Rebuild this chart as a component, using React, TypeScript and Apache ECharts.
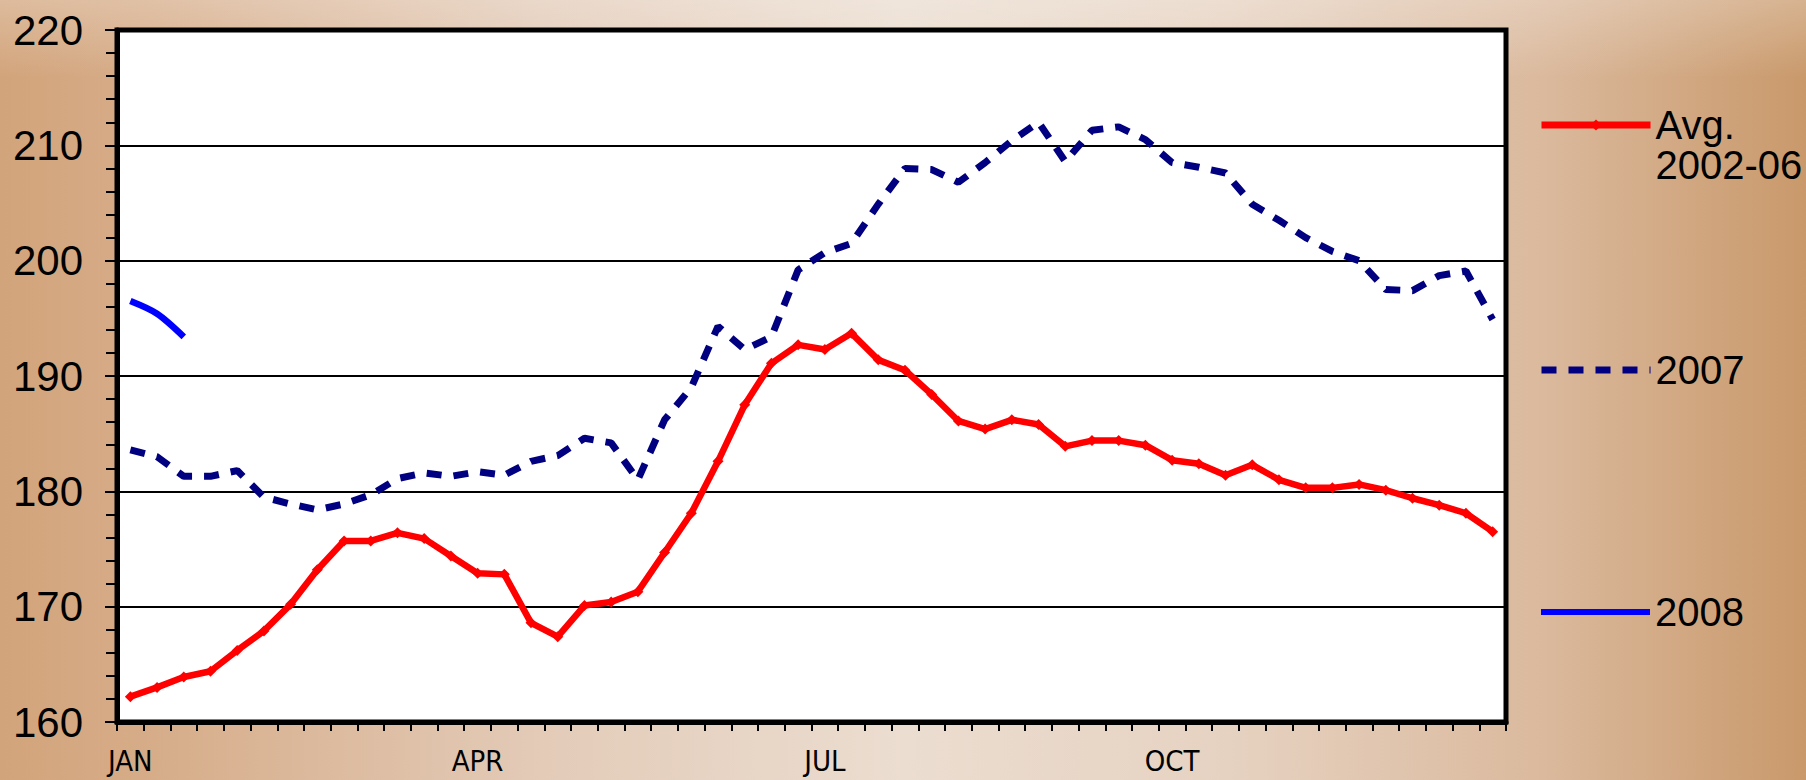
import React, { useEffect, useRef } from "react";
import * as echarts from "echarts";

// ---- data ----
const weekCategories: string[] = Array.from({ length: 52 }, (_, i) => `Week ${i + 1}`);
const monthTickLabels: string[] = ["JAN", "APR", "JUL", "OCT"];
const monthLabelWeekIndex: number[] = [0, 13, 26, 39];

const seriesNames: string[] = ["Avg. 2002-06", "2007", "2008"];

const avg2002to06: number[] = [
  162.2, 163.0, 163.9, 164.4, 166.2, 167.9, 170.2, 173.2, 175.7, 175.7,
  176.4, 175.9, 174.4, 172.9, 172.8, 168.6, 167.4, 170.1, 170.4, 171.3,
  174.7, 178.1, 182.6, 187.5, 191.1, 192.7, 192.3, 193.7, 191.4, 190.5,
  188.4, 186.1, 185.4, 186.2, 185.8, 183.9, 184.4, 184.4, 184.0, 182.7,
  182.4, 181.4, 182.3, 181.0, 180.3, 180.3, 180.6, 180.1, 179.4, 178.8,
  178.1, 176.5,
];

const y2007: number[] = [
  183.6, 183.0, 181.3, 181.3, 181.8, 179.5, 178.9, 178.4, 178.9, 179.7,
  181.1, 181.6, 181.3, 181.7, 181.4, 182.6, 183.1, 184.6, 184.2, 181.0,
  186.2, 189.0, 194.3, 192.3, 193.4, 199.2, 200.7, 201.5, 204.9, 208.0,
  207.9, 206.8, 208.5, 210.4, 212.0, 208.6, 211.3, 211.6, 210.5, 208.5,
  208.1, 207.6, 204.9, 203.5, 202.0, 200.8, 200.0, 197.5, 197.4, 198.7,
  199.1, 194.9,
];

const y2008: number[] = [196.5, 195.4, 193.4];

const yMin = 160;
const yMax = 220;
const yInterval = 10;

export default function App() {
  const ref = useRef<HTMLDivElement>(null);

  useEffect(() => {
    if (!ref.current) return;
    const chart = echarts.init(ref.current, null, { renderer: "svg" });
    const mainFont = "'Liberation Sans', Arial, sans-serif";
    const narrowFont = "'Liberation Sans Narrow', 'Arial Narrow', 'DejaVu Sans Condensed', sans-serif";

    const legendText = {
      color: "#000",
      fontSize: 40,
      lineHeight: 40,
      fontFamily: mainFont,
    };
    const legendCommon = {
      left: 1538,
      padding: 0,
      itemWidth: 109,
      itemHeight: 14,
      selectedMode: false,
      textStyle: legendText,
    };

    chart.setOption({
      animation: false,
      backgroundColor: "transparent",
      textStyle: { fontFamily: mainFont },
      grid: {
        left: 117,
        top: 30,
        width: 1389,
        height: 692,
        show: true,
        backgroundColor: "#ffffff",
        borderColor: "#000",
        borderWidth: 5,
        containLabel: false,
        outerBoundsMode: "none",
      },
      xAxis: {
        type: "category",
        data: weekCategories,
        boundaryGap: true,
        axisLine: { show: true, lineStyle: { color: "#000", width: 5 } },
        axisTick: {
          show: true,
          interval: 0,
          length: 9,
          lineStyle: { color: "#000", width: 2 },
        },
        axisLabel: {
          interval: 0,
          margin: 24,
          color: "#000",
          fontSize: 29,
          lineHeight: 29,
          fontFamily: narrowFont,
          formatter: (_v: string, idx: number) => {
            const k = monthLabelWeekIndex.indexOf(idx);
            return k >= 0 ? monthTickLabels[k] : "";
          },
        },
        splitLine: { show: false },
      },
      yAxis: {
        type: "value",
        min: yMin,
        max: yMax,
        interval: yInterval,
        axisLine: { show: true, lineStyle: { color: "#000", width: 5 } },
        axisTick: { show: true, length: 12, lineStyle: { color: "#000", width: 2 } },
        minorTick: { show: true, splitNumber: 5, length: 11, lineStyle: { color: "#000", width: 2 } },
        axisLabel: { margin: 34, color: "#000", fontSize: 42, fontFamily: mainFont },
        splitLine: { show: true, lineStyle: { color: "#000", width: 1.8 } },
      },
      legend: [
        {
          ...legendCommon,
          data: [seriesNames[0]],
          top: 125 - 60,
          formatter: () => "\nAvg.\n2002-06",
          lineStyle: { width: 7 },
        },
        {
          ...legendCommon,
          data: [seriesNames[1]],
          top: 370 - 20,
          lineStyle: { width: 7 },
          itemStyle: { opacity: 0 },
        },
        {
          ...legendCommon,
          data: [seriesNames[2]],
          top: 612 - 20,
          lineStyle: { width: 6 },
          itemStyle: { opacity: 0 },
        },
      ],
      series: [
        {
          name: seriesNames[1],
          type: "line",
          data: y2007,
          symbol: "none",
          lineStyle: { color: "#000080", width: 7, type: [15, 12] },
          itemStyle: { color: "#000080" },
          z: 2,
        },
        {
          name: seriesNames[0],
          type: "line",
          data: avg2002to06,
          symbol: "diamond",
          symbolSize: 11,
          lineStyle: { color: "#ff0000", width: 6.5 },
          itemStyle: { color: "#ff0000" },
          z: 3,
        },
        {
          name: seriesNames[2],
          type: "line",
          data: y2008,
          symbol: "none",
          smooth: 0.3,
          lineStyle: { color: "#0000ff", width: 6.5 },
          itemStyle: { color: "#0000ff" },
          z: 4,
        },
      ],
    });

    return () => chart.dispose();
  }, []);

  return (
    <div
      style={{
        position: "absolute",
        left: 0,
        top: 0,
        width: 1806,
        height: 780,
        background:
          "linear-gradient(to bottom, rgba(255,255,255,0.25) 0%, rgba(255,255,255,0) 10%), linear-gradient(to right, #D2A47B 0%, #D6AC88 8%, #E3CBB8 30%, #EBDDD0 50%, #E6D2C1 68%, #DBBA9E 85%, #C9996B 100%)",
      }}
    >
      <div ref={ref} style={{ width: 1806, height: 780 }} />
    </div>
  );
}
